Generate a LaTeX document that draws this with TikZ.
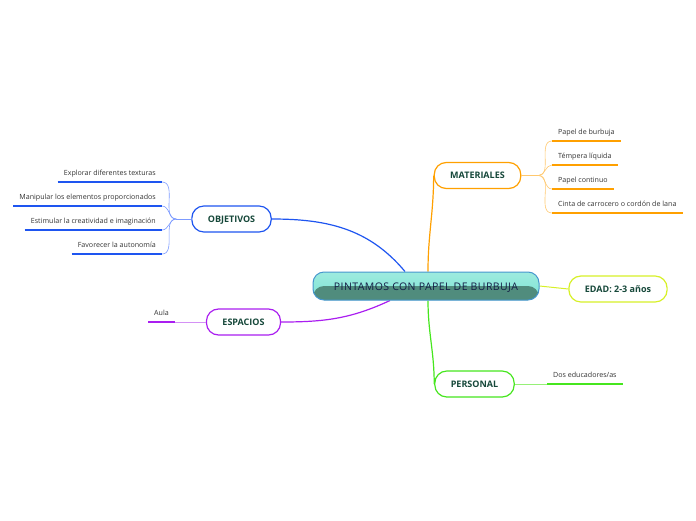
\documentclass[tikz,border=0pt]{standalone}
\usepackage{fontspec}
\setmainfont{Open Sans}
\usetikzlibrary{positioning,calc,backgrounds}
\definecolor{cText}{RGB}{22,72,58}
\definecolor{cSub}{RGB}{50,50,50}
\definecolor{cBlue}{RGB}{30,85,240}
\definecolor{cBlueL}{RGB}{125,155,255}
\definecolor{cOrange}{RGB}{255,160,0}
\definecolor{cOrangeL}{RGB}{255,200,110}
\definecolor{cPurple}{RGB}{170,30,240}
\definecolor{cPurpleL}{RGB}{212,145,245}
\definecolor{cGreen}{RGB}{70,230,30}
\definecolor{cGreenL}{RGB}{150,240,120}
\definecolor{cLime}{RGB}{215,240,40}
\definecolor{cTealT}{RGB}{125,228,212}
\definecolor{cTealB}{RGB}{80,140,125}
\definecolor{cEdge}{RGB}{70,150,205}
\definecolor{cNavy}{RGB}{20,30,70}
\tikzset{
  centralbox/.style={rectangle,rounded corners=11pt,draw=cEdge,line width=1pt,
                     minimum width=226pt,minimum height=28pt,
                     top color=cTealT!75!white,bottom color=cTealT,
                     text=cNavy,text height=9pt,text depth=0pt,
                     font=\fontsize{10.5}{12}\selectfont\addfontfeature{LetterSpace=4},
                     path picture={\fill[cTealB] (path picture bounding box.west)
                       rectangle (path picture bounding box.south east);}},
  topicbox/.style={rectangle,rounded corners=12pt,line width=1.2pt,fill=white,
                   minimum height=26pt,inner xsep=16pt,text=cText,
                   text height=6.5pt,text depth=0pt,
                   font=\bfseries\fontsize{9}{10}\selectfont},
  mattopic/.style={topicbox,draw=cOrange},
  objtopic/.style={topicbox,draw=cBlue},
  esptopic/.style={topicbox,draw=cPurple},
  pertopic/.style={topicbox,draw=cGreen},
  edadtopic/.style={topicbox,draw=cLime},
  subtxt/.style={inner xsep=6pt,inner ysep=4pt,text=cSub,
                 text height=5.5pt,text depth=2pt,
                 font=\fontsize{7.1}{8}\selectfont},
  subline/.style={line width=1.8pt},
  conn/.style={line width=1.2pt},
  subconn/.style={line width=0.6pt}
}
\begin{document}
\begin{tikzpicture}[x=1pt,y=-1pt]
  \useasboundingbox (0,0) rectangle (696,520);

  \node[centralbox] (ctr) at (426,286) {PINTAMOS CON PAPEL DE BURBUJA};
  \node[mattopic] (mat) at (477.5,175.5) {MATERIALES};
  \node[objtopic] (obj) at (231.5,219) {OBJETIVOS};
  \node[esptopic] (esp) at (243.5,322) {ESPACIOS};
  \node[pertopic] (per) at (474.5,384) {PERSONAL};
  \node[edadtopic] (edad) at (618,289) {EDAD: 2-3 años};

  \node[subtxt,anchor=south west] (m1) at (552,141) {Papel de burbuja};
  \node[subtxt,anchor=south west] (m2) at (552,165) {Témpera líquida};
  \node[subtxt,anchor=south west] (m3) at (552,189) {Papel continuo};
  \node[subtxt,anchor=south west] (m4) at (552,213) {Cinta de carrocero o cordón de lana};

  \node[subtxt,anchor=south east] (o1) at (162,182) {Explorar diferentes texturas};
  \node[subtxt,anchor=south east] (o2) at (162,206) {Manipular los elementos proporcionados};
  \node[subtxt,anchor=south east] (o3) at (162,230) {Estimular la creatividad e imaginación};
  \node[subtxt,anchor=south east] (o4) at (162,254) {Favorecer la autonomía};

  \node[subtxt,anchor=south east] (e1) at (175,322) {Aula};
  \node[subtxt,anchor=south west] (p1) at (547,384) {Dos educadores/as};

  \coordinate (mj) at ($(mat.east)+(17,0)$);
  \coordinate (oj) at ($(obj.west)+(-15,0)$);

  \begin{scope}[on background layer]
    \draw[conn,cBlue] ($(ctr.north)+(-21,0)$) to[out=130,in=0] (obj.east);
    \draw[conn,cPurple] ($(ctr.south)+(-36,0)$) to[out=-155,in=0] (esp.east);
    \draw[conn,cOrange] ($(ctr.north)+(2,0)$) to[out=90,in=-90] (mat.west);
    \draw[conn,cGreen] ($(ctr.south)+(2,0)$) to[out=-90,in=90] (per.west);
    \draw[line width=1pt,cLime] (ctr.east) -- (edad.west);
  \end{scope}

  \draw[subconn,cOrangeL] (mat.east) -- (mj);
  \foreach \n in {m1,m2,m3,m4}
    \draw[subconn,cOrangeL] (mj) to[out=0,in=180] (\n.south west);
  \draw[subconn,cBlueL] (obj.west) -- (oj);
  \foreach \n in {o1,o2,o3,o4}
    \draw[subconn,cBlueL] (oj) to[out=180,in=0] (\n.south east);
  \draw[subconn,cPurpleL] (esp.west) -- (e1.south east);
  \draw[subconn,cGreenL] (per.east) -- (p1.south west);

  \foreach \n in {m1,m2,m3,m4}
    \draw[subline,cOrange] (\n.south west) -- (\n.south east);
  \foreach \n in {o1,o2,o3,o4}
    \draw[subline,cBlue] (\n.south west) -- (\n.south east);
  \draw[subline,cPurple] (e1.south west) -- (e1.south east);
  \draw[subline,cGreen] (p1.south west) -- (p1.south east);
\end{tikzpicture}
\end{document}
